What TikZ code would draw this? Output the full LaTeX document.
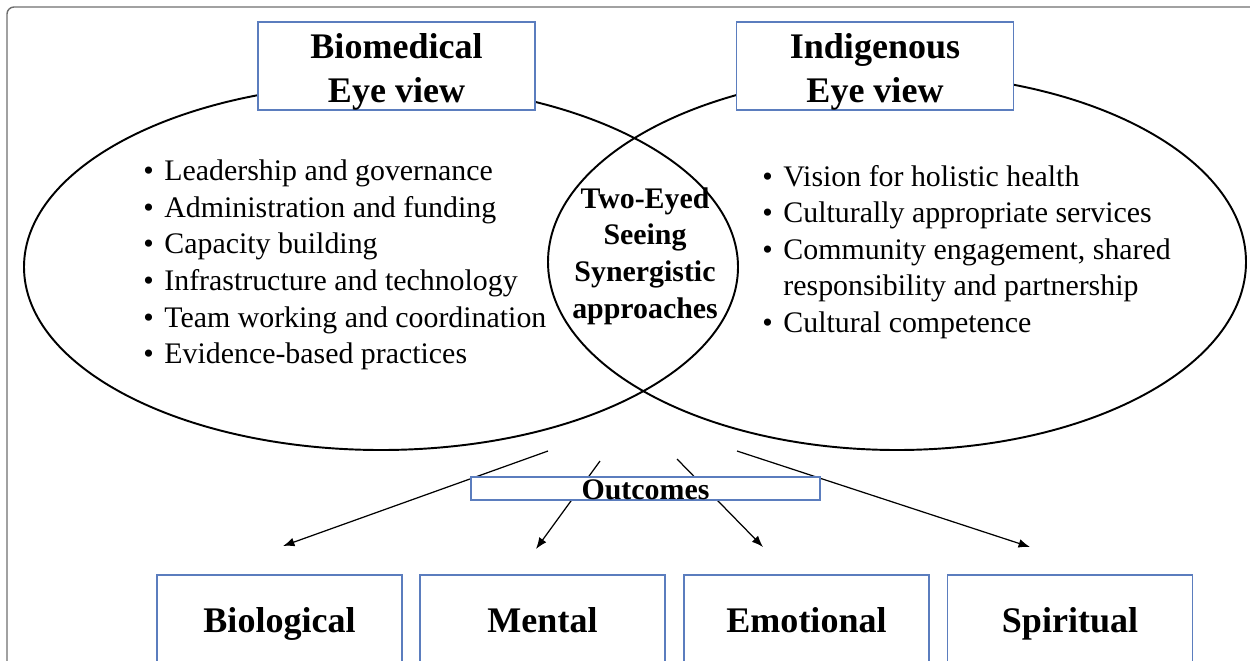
\documentclass[tikz,border=0pt]{standalone}
\usepackage{fontspec}
\setmainfont{Liberation Serif}
\usetikzlibrary{arrows.meta}
\definecolor{boxblue}{RGB}{91,125,190}
\definecolor{framegray}{RGB}{110,110,110}
\newcommand\bul{\makebox[12pt][l]{\textbullet}}
\begin{document}
\begin{tikzpicture}[x=0.02cm,y=-0.02cm,
    eye/.style={line width=1.1pt},
    head/.style={draw=boxblue,fill=white,line width=0.8pt,minimum width=5.54cm,minimum height=1.76cm},
    headtext/.style={align=center,inner sep=0pt,font=\fontsize{20.5}{25}\selectfont\bfseries},
    list/.style={align=left,inner sep=0pt,anchor=west,font=\fontsize{17}{20.8}\selectfont},
    lens/.style={align=center,inner sep=0pt,font=\fontsize{17}{20.9}\selectfont\bfseries},
    outbox/.style={draw=boxblue,fill=white,line width=0.8pt,minimum width=6.98cm,inner sep=0pt,
      text height=13pt,text depth=0pt,font=\fontsize{17}{20}\selectfont\bfseries},
    result/.style={draw=boxblue,fill=white,line width=0.8pt,minimum width=4.9cm,minimum height=1.84cm,
      text height=12.6pt,text depth=0pt,font=\fontsize{20.5}{25}\selectfont\bfseries},
    arr/.style={line width=0.7pt,-{Latex[length=6.5pt,width=5pt]}}]
  \useasboundingbox (0,0) rectangle (1250,660);
  \clip (0,0) rectangle (1250,660);
  \draw[framegray,line width=0.8pt,rounded corners=4pt] (7,700) -- (7,7) -- (1300,7);
  \draw[eye] (381,267) ellipse [x radius=357,y radius=183];
  \draw[eye] (897,262) ellipse [x radius=349,y radius=188];
  \coordinate (s1) at (548,451);
  \coordinate (s2) at (600,461);
  \coordinate (s3) at (677,459);
  \coordinate (s4) at (737,451);
  \coordinate (e1) at (283,546);
  \coordinate (e2) at (536,549);
  \coordinate (e3) at (763,547);
  \coordinate (e4) at (1030,547);
  \begin{scope}[arr]
    \draw (s1) -- (e1);
    \draw (s2) -- (e2);
    \draw (s3) -- (e3);
    \draw (s4) -- (e4);
  \end{scope}
  \node[head] (bio) at (396.5,66) {};
  \node[headtext] (biotitle) at (396.5,72) {Biomedical\\Eye view};
  \node[head] (ind) at (875,66) {};
  \node[headtext] (indtitle) at (875,72) {Indigenous\\Eye view};
  \node[list] (biolist) at (143,265) {\bul Leadership and governance\\
    \bul Administration and funding\\
    \bul Capacity building\\
    \bul Infrastructure and technology\\
    \bul Team working and coordination\\
    \bul Evidence-based practices};
  \node[list] (indlist) at (762,252) {\bul Vision for holistic health\\
    \bul Culturally appropriate services\\
    \bul Community engagement, shared\\
    \hspace*{12pt}responsibility and partnership\\
    \bul Cultural competence};
  \node[lens] (seeing) at (645,256) {Two-Eyed\\Seeing\\Synergistic\\approaches};
  \node[outbox] (outcomes) at (645.5,488.5) {Outcomes};
  \node[result] (biological) at (279.5,621) {Biological};
  \node[result] (mental) at (542.5,621) {Mental};
  \node[result] (emotional) at (806.5,621) {Emotional};
  \node[result] (spiritual) at (1070,621) {Spiritual};
\end{tikzpicture}
\end{document}
